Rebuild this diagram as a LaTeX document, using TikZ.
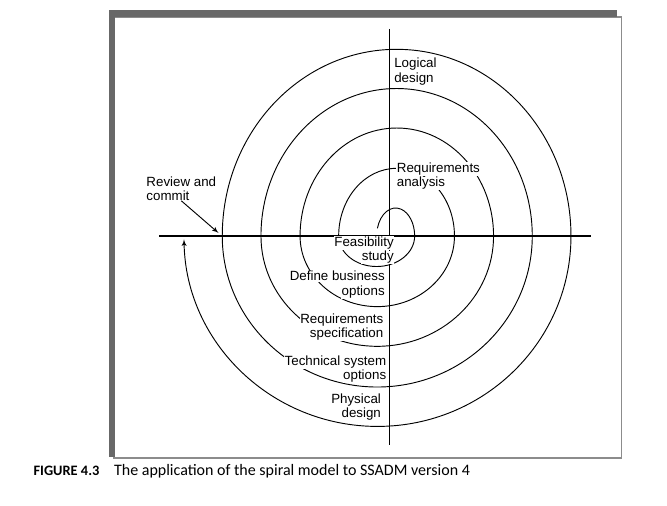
\documentclass[tikz,border=0pt]{standalone}
\usepackage{fontspec}
\setmainfont{Liberation Sans}
\newfontfamily\capfont{Carlito}
\usetikzlibrary{arrows}
\definecolor{framegray}{RGB}{104,104,104}
\definecolor{edgegray}{RGB}{140,140,140}
\newcommand{\wline}[1]{{\setlength{\fboxsep}{0.4pt}\colorbox{white}{#1}}}

\begin{document}
\begin{tikzpicture}[x=0.75pt,y=0.75pt]
   \tikzstyle{lbl} = [inner sep=0pt, font=\fontsize{10}{10.7}\selectfont]
   \tikzstyle{rlbl} = [lbl, align=right, anchor=north east]
   \tikzstyle{llbl} = [lbl, align=left, anchor=north west]
   \tikzstyle{axis} = [draw, line width=0.9pt]
   \tikzstyle{spiral} = [draw, line width=0.7pt, -latex']
   \tikzstyle{pointer} = [draw, line width=0.7pt, -latex']
   \useasboundingbox (0,0) rectangle (667,-506);

   % frame
   \draw [edgegray, line width=1.2pt] (114,-17) rectangle (621.5,-457.7);
   \fill [framegray] (109,-10) rectangle (617,-17);
   \fill [framegray] (109,-10) rectangle (114.5,-456.7);

   % axes
   \coordinate (west) at (159,-236);
   \coordinate (east) at (590.8,-236);
   \coordinate (north) at (389.3,-29);
   \coordinate (south) at (389.3,-445);
   \path [axis] (west) -- (east);
   \path [axis] (north) -- (south);

   % spiral
   \path [spiral] (377.4,-228.3)
      arc[start angle=164, end angle=0, x radius=19, y radius=28]
      arc[start angle=0, end angle=-180, x radius=38, y radius=30.5]
      arc[start angle=180, end angle=0, x radius=57.9, y radius=67.7]
      arc[start angle=0, end angle=-180, x radius=77.2, y radius=70.6]
      arc[start angle=180, end angle=0, x radius=96.75, y radius=108]
      arc[start angle=0, end angle=-180, x radius=116.3, y radius=110.3]
      arc[start angle=180, end angle=0, x radius=135.65, y radius=147.5]
      arc[start angle=0, end angle=-180, x radius=155, y radius=151]
      arc[start angle=180, end angle=0, x radius=174.35, y radius=186.7]
      arc[start angle=0, end angle=-179, x radius=193.5, y radius=190.4];

   % stages
   \node (ld) [llbl] at (393.5,-57.5) {\wline{Logical}\\\wline{design}};
   \node (ra) [llbl] at (396.1,-162) {\wline{Requirements}\\\wline{analysis}};
   \node (fs) [rlbl] at (394.5,-236.2) {\wline{Feasibility}\\\wline{study}};
   \node (db) [rlbl] at (385.5,-270.5) {\wline{Define business}\\\wline{options}};
   \node (rs) [rlbl] at (384.1,-312.8) {\wline{Requirements}\\\wline{specification}};
   \node (ts) [rlbl] at (387,-355.2) {\wline{Technical system}\\\wline{options}};
   \node (pd) [rlbl] at (381.7,-392.8) {\wline{Physical}\\\wline{design}};
   \node (rc) [llbl] at (146.2,-176.2) {Review and\\commit};

   \coordinate (rctip) at (218.5,-233);
   \path [pointer] (rc.south) -- (rctip);

   % caption
   \node (cap) [anchor=base west, inner sep=0pt, font=\capfont\fontsize{12}{14}\selectfont]
      at (33.3,-475) {{\fontsize{10.8}{13}\selectfont\bfseries FIGURE 4.3}\hspace{11pt}The application of the spiral model to SSADM version 4};
\end{tikzpicture}
\end{document}
